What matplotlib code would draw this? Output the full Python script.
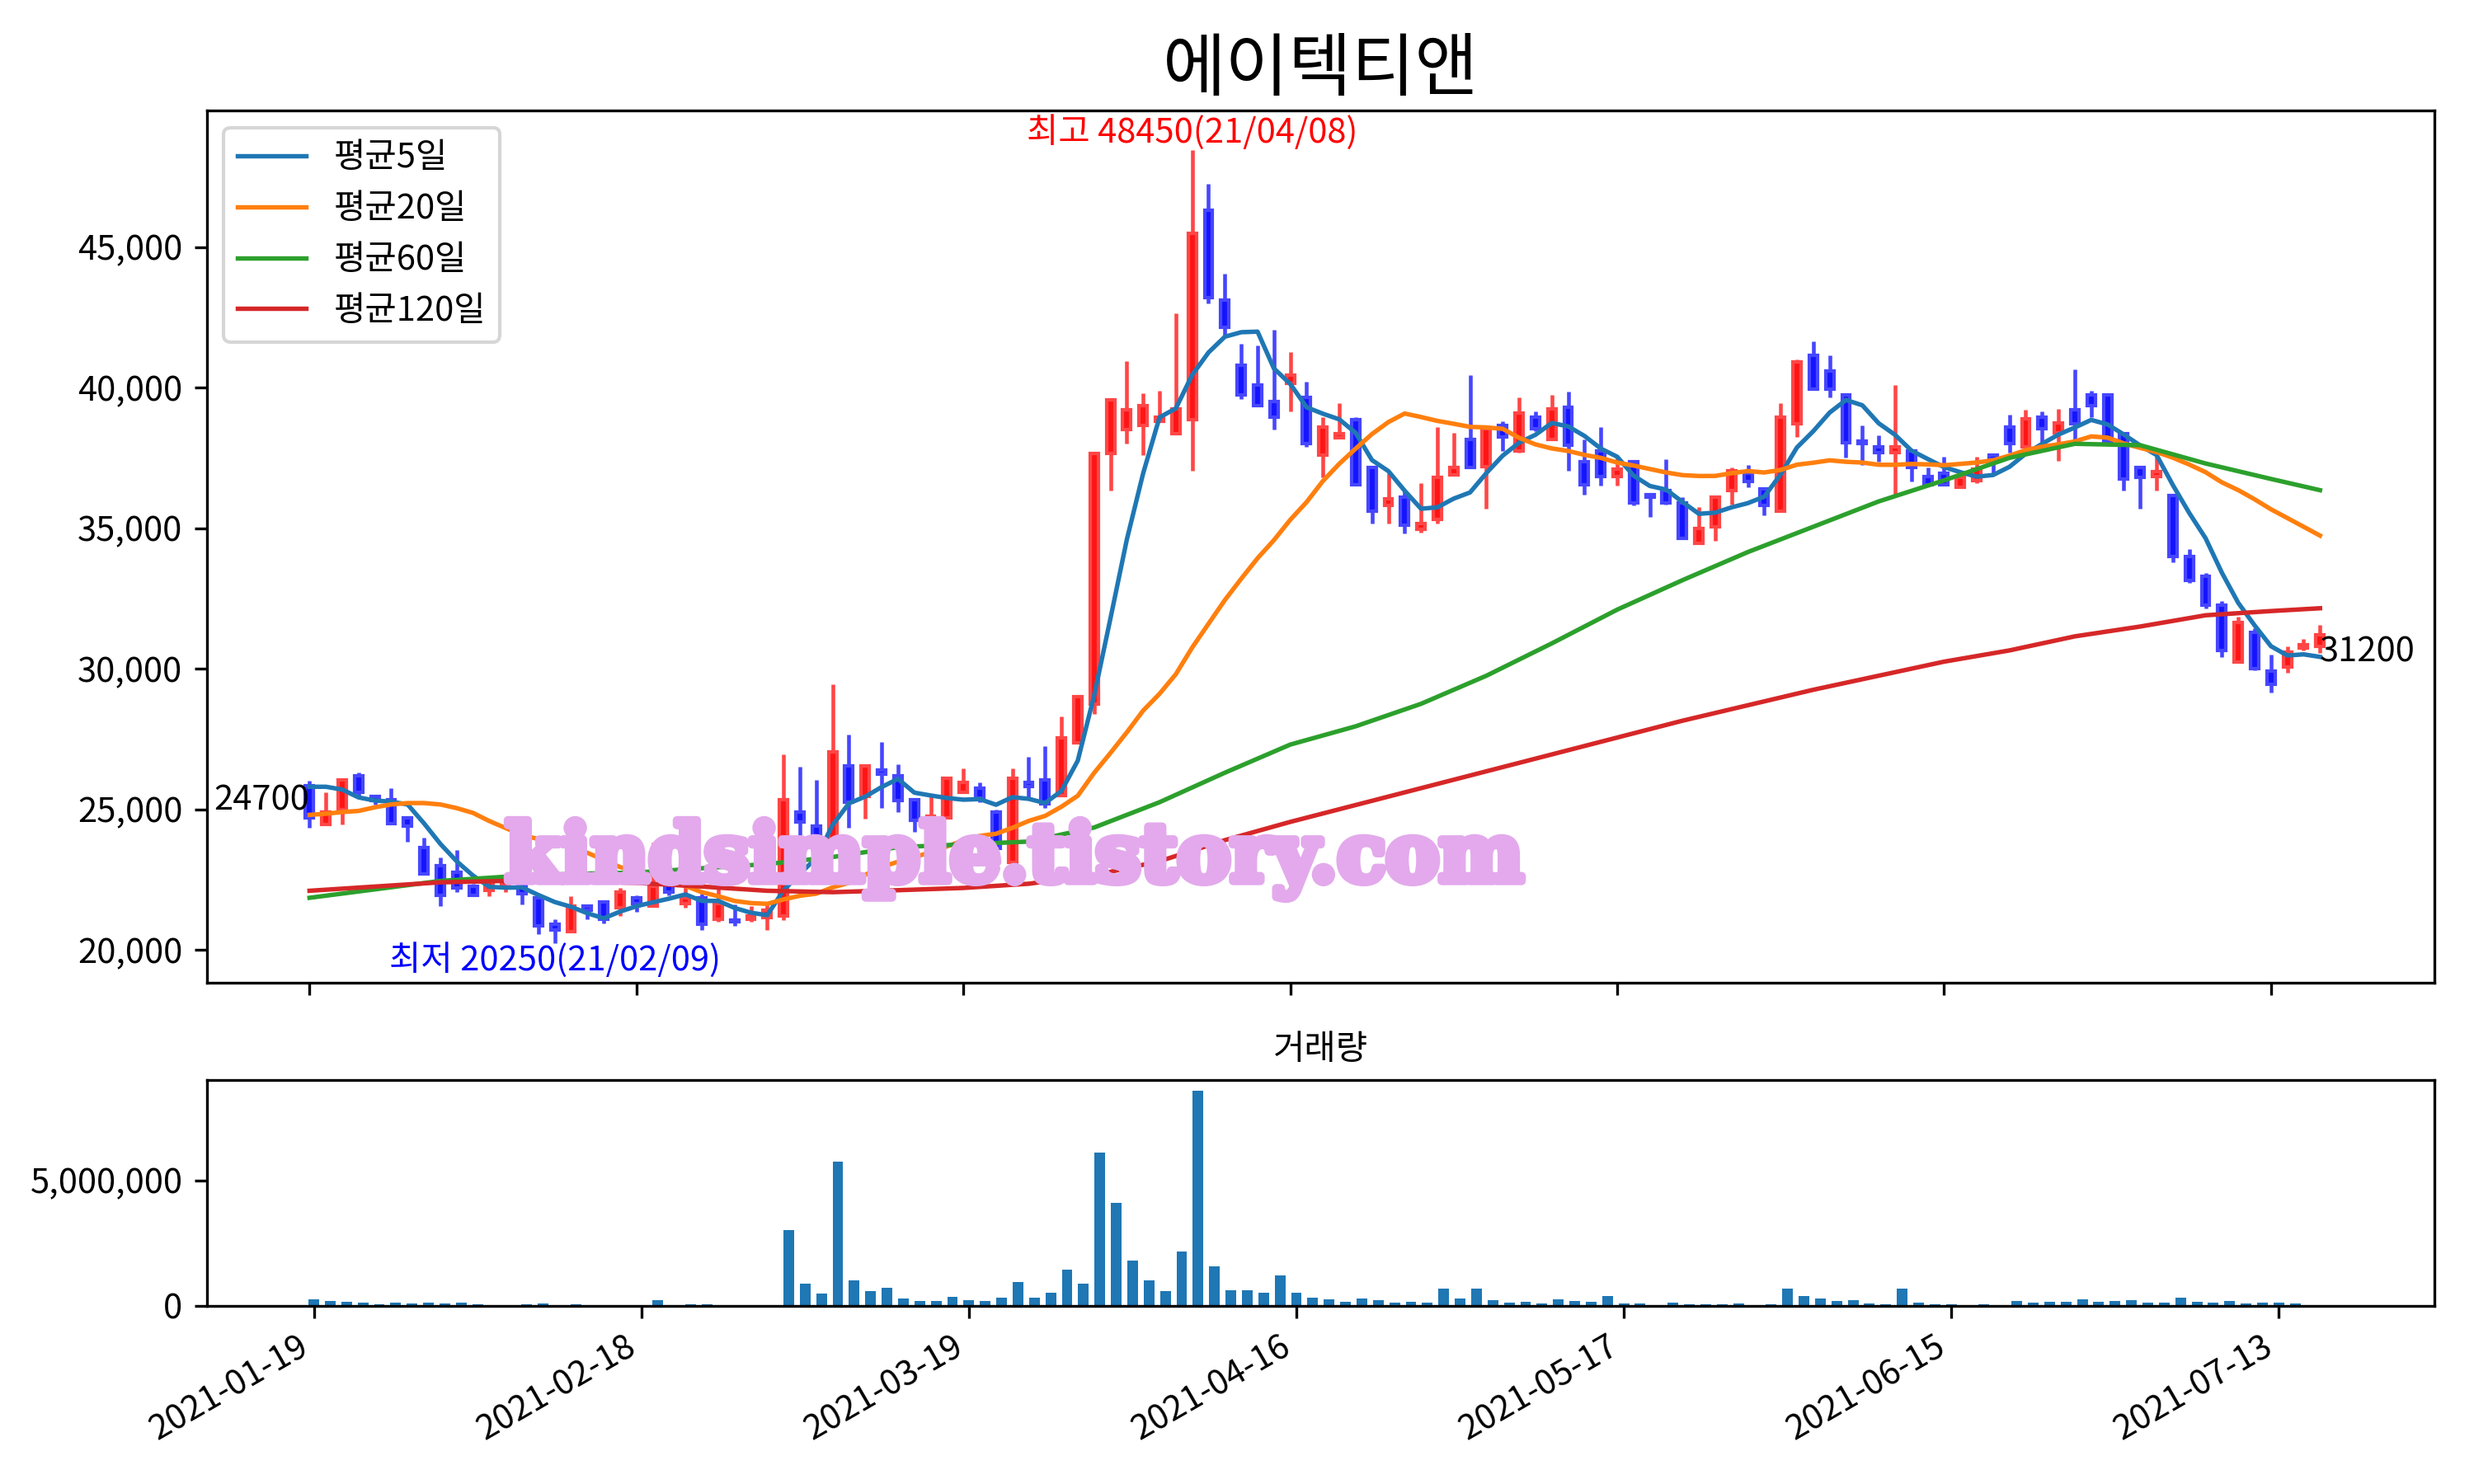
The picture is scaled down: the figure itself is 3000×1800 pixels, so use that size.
import numpy as np
import pandas as pd
import matplotlib
matplotlib.use('Agg')
import matplotlib.pyplot as plt
import matplotlib.patheffects as pe
from matplotlib.ticker import FuncFormatter, MultipleLocator

plt.rcParams['font.family'] = ['Noto Sans CJK KR', 'DejaVu Sans']
plt.rcParams['axes.unicode_minus'] = False

name = '에이텍티앤'

# KRX trading days 2021-01-19 ~ 2021-07-16
holidays = ['2021-02-11', '2021-02-12', '2021-03-01', '2021-05-05', '2021-05-19']
dates = [d for d in pd.bdate_range('2021-01-19', '2021-07-16')
         if d.strftime('%Y-%m-%d') not in holidays]

opens = [25850, 24450, 25000, 26200, 25450, 25350, 24700, 23650, 23000, 22750,
         22250, 22100, 22300, 22500, 21850, 20900, 20650, 21550, 21700, 21500,
         21850, 21550, 22350, 21650, 21850, 21100, 21050, 21100, 21150, 21200,
         24900, 24400, 23850, 26550, 25450, 26400, 26200, 25350, 24650, 24700,
         25600, 25750, 24900, 23100, 25950, 26050, 25500, 27350, 28750, 37650,
         38500, 38650, 38800, 38350, 38850, 46300, 43100, 40800, 40100, 39500,
         40150, 39650, 37600, 38200, 38850, 37150, 35800, 36100, 34950, 35300,
         36900, 38150, 37200, 38650, 37750, 38950, 38150, 39300, 37350, 37750,
         36850, 37350, 36200, 36350, 35900, 34450, 35050, 36350, 36950, 36400,
         35600, 38700, 41150, 40600, 39750, 38100, 37900, 37700, 37750, 36850,
         36950, 36450, 36700, 37600, 38600, 37900, 38950, 38400, 39200, 39750,
         39750, 38350, 37150, 36850, 36150, 34000, 33300, 32250, 30250, 31300,
         29900, 30050, 30750, 30800]
highs = [26000, 25600, 26050, 26300, 25500, 25750, 24750, 24000, 23300, 23550,
         22350, 22600, 22600, 22550, 22000, 21100, 21900, 21600, 21700, 22200,
         21950, 23800, 22400, 22350, 22000, 22350, 21600, 21550, 21600, 26950,
         26500, 26050, 29450, 27650, 26550, 27400, 26600, 25350, 25450, 26150,
         26450, 25950, 25000, 26450, 26850, 27250, 28300, 29000, 37650, 39550,
         40950, 39800, 39900, 42650, 48450, 47250, 44050, 41550, 41500, 42050,
         41250, 40200, 38950, 39450, 38950, 37150, 36950, 36300, 36600, 38600,
         38400, 40450, 38550, 38800, 39650, 39150, 39750, 39850, 38150, 38600,
         37550, 37350, 36250, 37450, 36100, 35750, 36100, 37150, 37250, 36400,
         39450, 41000, 41650, 41150, 39750, 38650, 38300, 40100, 37750, 37150,
         37550, 36800, 37550, 37600, 39050, 39200, 39150, 39250, 40650, 39900,
         39750, 38400, 37200, 37550, 36150, 34250, 33400, 32400, 31850, 31450,
         30500, 30800, 31050, 31550]
lows = [24350, 24450, 24450, 25400, 25150, 24500, 23850, 22700, 21550, 22050,
        21900, 21900, 22050, 21600, 20550, 20250, 20650, 21100, 20950, 21200,
        21350, 21550, 21950, 21500, 20700, 21000, 20850, 21000, 20700, 21050,
        24000, 23700, 23800, 24350, 24650, 25050, 24900, 24200, 24650, 24650,
        25600, 25250, 23550, 23100, 25400, 25050, 25500, 27350, 28400, 36350,
        38000, 37600, 38800, 38350, 37050, 43000, 41850, 39600, 39350, 38500,
        39150, 37900, 36800, 38200, 36500, 35150, 35150, 34800, 34850, 35150,
        36900, 37150, 35700, 37750, 37700, 38450, 38150, 37050, 36200, 36500,
        36500, 35800, 35400, 35850, 34650, 34450, 34550, 35850, 36450, 35450,
        35600, 38250, 39950, 39650, 37500, 37250, 37350, 36150, 36650, 36550,
        36500, 36450, 36600, 36950, 37700, 37900, 38050, 37400, 38150, 38950,
        38100, 36350, 35700, 36350, 33800, 33050, 32150, 30400, 30250, 29950,
        29150, 29850, 30650, 30550]
closes = [24700, 24900, 26050, 25600, 25300, 24500, 24400, 22700, 21950, 22200,
          21950, 22400, 22550, 22000, 20850, 20700, 21550, 21400, 21100, 22050,
          21650, 22250, 22050, 21850, 20900, 21650, 21000, 21200, 21400, 25350,
          24550, 23850, 27050, 25250, 26550, 26250, 25300, 24600, 24750, 26100,
          25950, 25400, 23600, 26100, 25800, 25200, 27550, 29000, 37650, 39550,
          39200, 39350, 38950, 39250, 45500, 43200, 42150, 39750, 39350, 38950,
          40450, 38000, 38600, 38350, 36550, 35600, 36050, 35100, 35150, 36800,
          37150, 37150, 38550, 38250, 39100, 38550, 39250, 37950, 36550, 36850,
          37100, 35900, 36100, 35900, 34650, 35000, 36100, 37050, 36650, 35800,
          38950, 40900, 39950, 39950, 38050, 38000, 37700, 37900, 37150, 36550,
          36550, 36800, 37100, 37450, 38000, 38900, 38550, 38750, 38700, 39350,
          38100, 36750, 36800, 37000, 34000, 33150, 32250, 30650, 31650, 30000,
          29450, 30600, 30850, 31200]
volumes = [250000, 185000, 150000, 120000, 50000, 120000, 90000, 120000, 90000, 120000,
           50000, 20000, 20000, 50000, 90000, 20000, 50000, 20000, 20000, 20000,
           20000, 220000, 20000, 50000, 50000, 20000, 20000, 20000, 10000, 3030000,
           870000, 480000, 5740000, 1030000, 580000, 710000, 280000, 185000, 185000, 350000,
           220000, 185000, 320000, 940000, 320000, 540000, 1460000, 870000, 6100000, 4110000,
           1790000, 1030000, 580000, 2180000, 8550000, 1590000, 610000, 610000, 540000, 1230000,
           510000, 320000, 250000, 150000, 280000, 220000, 120000, 150000, 120000, 680000,
           280000, 680000, 220000, 120000, 150000, 90000, 250000, 185000, 150000, 380000,
           90000, 90000, 20000, 120000, 50000, 50000, 50000, 90000, 20000, 50000,
           680000, 410000, 280000, 185000, 220000, 90000, 50000, 680000, 120000, 50000,
           50000, 20000, 50000, 20000, 185000, 120000, 150000, 150000, 250000, 150000,
           185000, 220000, 120000, 120000, 320000, 150000, 120000, 185000, 90000, 120000,
           120000, 90000, 20000, 20000]

# moving averages before the window is full
ma5_head = [25800, 25800, 25700, 25420]
ma20_head = [24800, 24840, 24900, 24940, 25070, 25170, 25220, 25220, 25170, 25040,
             24870, 24580, 24330, 24080, 23940, 23790, 23650, 23450, 23200]
# 60 / 120 day averages read every 4 trading days
ma_idx = [0, 4, 8, 12, 16, 20, 24, 28, 32, 36, 40, 44, 48, 52, 56, 60,
          64, 68, 72, 76, 80, 84, 88, 92, 96, 100, 104, 108, 112, 116, 120, 123]
ma60 = [21850, 22150, 22450, 22600, 22700, 22750, 22900, 23050, 23300, 23650, 23750,
        23850, 24350, 25250, 26300, 27300, 27950, 28750, 29750, 30900, 32100, 33150,
        34150, 35050, 35950, 36700, 37500, 38000, 37950, 37300, 36750, 36350]
ma120 = [22100, 22250, 22400, 22450, 22450, 22380, 22250, 22100, 22050, 22120, 22200,
         22350, 22650, 23150, 23900, 24550, 25150, 25750, 26350, 26950, 27550, 28150,
         28700, 29250, 29750, 30250, 30650, 31150, 31500, 31900, 32050, 32150]

opens = np.array(opens); highs = np.array(highs)
lows = np.array(lows); closes = np.array(closes)
x = np.arange(len(closes))

s = pd.Series(closes, dtype=float)
ma5 = s.rolling(5).mean().values
ma5[:4] = ma5_head
ma20 = s.rolling(20).mean().values
ma20[:19] = ma20_head

fig = plt.figure(figsize=(10, 6), dpi=300)
ax1 = fig.add_axes([0.0835, 0.338, 0.9005, 0.5876])
ax2 = fig.add_axes([0.0835, 0.120, 0.9005, 0.152])

# candles: red up, blue down
up = closes >= opens
for cond, face, edge in [(up, '#FF1414', '#FF4646'), (~up, '#1414FF', '#4646FF')]:
    ax1.vlines(x[cond], lows[cond], highs[cond], color=edge, lw=1.1, zorder=2)
    bottom = np.minimum(opens, closes)[cond]
    height = np.abs(closes - opens)[cond]
    ax1.bar(x[cond], height, bottom=bottom, width=0.5, color=face,
            edgecolor=edge, linewidth=1.0, zorder=2)

ax1.plot(x, ma5, color='#1f77b4', lw=1.3, label='평균5일', zorder=3)
ax1.plot(x, ma20, color='#ff7f0e', lw=1.3, label='평균20일', zorder=3)
ax1.plot(ma_idx, ma60, color='#2ca02c', lw=1.3, label='평균60일', zorder=3)
ax1.plot(ma_idx, ma120, color='#d62728', lw=1.3, label='평균120일', zorder=3)
ax1.legend(loc='upper left')

wm = ax1.text(0.3625, 0.141, 'kindsimple.tistory.com', transform=ax1.transAxes,
              fontsize=23.2, family='DejaVu Serif', fontweight='bold', color='#E3A9EC',
              ha='center', va='center', zorder=4)
wm.set_path_effects([pe.withStroke(linewidth=2.5, foreground='#E3A9EC')])

imax = int(np.argmax(highs))
imin = int(np.argmin(lows))
ax1.text(imax, highs[imax], f'최고 {highs[imax]}({dates[imax]:%y/%m/%d})',
         color='red', ha='center', va='bottom')
ax1.text(imin, lows[imin], f'최저 {lows[imin]}({dates[imin]:%y/%m/%d})',
         color='blue', ha='center', va='top')
ax1.text(x[0], closes[0], str(closes[0]), ha='right', va='bottom')
ax1.text(x[-1], closes[-1], str(closes[-1]), ha='left', va='top')

ax1.set_title(name, fontsize=20)
ax1.yaxis.set_major_locator(MultipleLocator(5000))
ax1.yaxis.set_major_formatter(FuncFormatter(lambda v, p: f'{v:,.0f}'))
ticks = list(range(0, len(x), 20))
ax1.set_xticks(ticks)
ax1.set_xticklabels([])
ax1.set_xlim(-6.3, 130.0)

# volume
ax2.bar(x, volumes, width=0.65, color='#1f77b4')
ax2.set_title('거래량', fontsize=10)
ax2.set_yticks([0, 5000000])
ax2.yaxis.set_major_formatter(FuncFormatter(lambda v, p: f'{v:,.0f}'))
ax2.set_xticks(ticks)
ax2.set_xticklabels([dates[i].strftime('%Y-%m-%d') for i in ticks],
                    rotation=30, ha='right')
ax2.set_xlim(-6.55, 129.5)

fig.savefig('out.png')
